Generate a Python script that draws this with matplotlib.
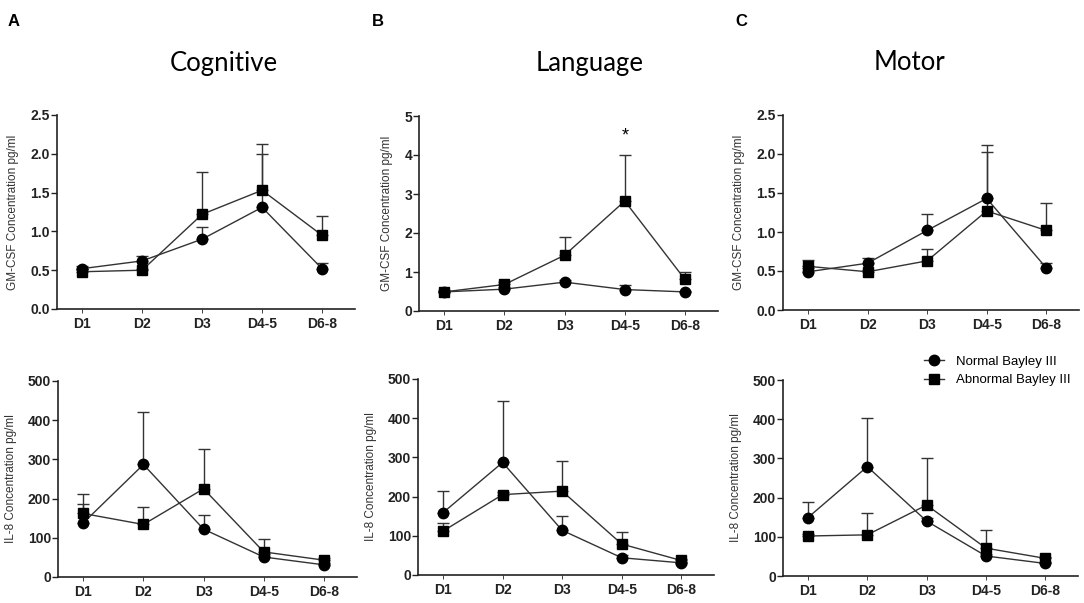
import matplotlib
matplotlib.use("Agg")
import matplotlib.pyplot as plt
import numpy as np

days = ["D1", "D2", "D3", "D4-5", "D6-8"]
titles = ["Cognitive", "Language", "Motor"]
letters = ["A", "B", "C"]
series_names = ["Normal Bayley III", "Abnormal Bayley III"]

# GM-CSF (top row): means and upward SEM
gm_normal = [[0.52, 0.62, 0.90, 1.31, 0.52],
             [0.49, 0.56, 0.74, 0.55, 0.49],
             [0.49, 0.60, 1.02, 1.43, 0.54]]
gm_normal_sem = [[0.04, 0.06, 0.16, 0.69, 0.07],
                 [0.03, 0.05, 0.06, 0.12, 0.03],
                 [0.05, 0.07, 0.21, 0.59, 0.06]]
gm_abnormal = [[0.48, 0.50, 1.22, 1.53, 0.95],
               [0.49, 0.68, 1.43, 2.82, 0.81],
               [0.56, 0.49, 0.63, 1.27, 1.02]]
gm_abnormal_sem = [[0.03, 0.02, 0.54, 0.59, 0.25],
                   [0.04, 0.06, 0.48, 1.19, 0.19],
                   [0.08, 0.02, 0.15, 0.85, 0.35]]

# IL-8 (bottom row)
il_normal = [[138, 287, 122, 51, 31],
             [159, 287, 114, 44, 31],
             [149, 279, 140, 51, 32]]
il_normal_sem = [[47, 134, 35, 8, 4],
                 [56, 156, 36, 6, 3],
                 [41, 123, 8, 6, 4]]
il_abnormal = [[162, 134, 225, 64, 43],
               [112, 205, 214, 79, 37],
               [102, 105, 181, 71, 45]]
il_abnormal_sem = [[49, 44, 102, 34, 5],
                   [21, 8, 78, 31, 4],
                   [6, 55, 119, 46, 4]]

gm_ylims = [2.5, 5, 2.5]
gm_yticks = [[0.0, 0.5, 1.0, 1.5, 2.0, 2.5], [0, 1, 2, 3, 4, 5], [0.0, 0.5, 1.0, 1.5, 2.0, 2.5]]
gm_fmt = ["{:.1f}", "{:.0f}", "{:.1f}"]
il_yticks = [0, 100, 200, 300, 400, 500]

W, H = 1084, 603
fig = plt.figure(figsize=(W / 100, H / 100), dpi=100)

top_boxes = [(57, 355, 115, 309), (419, 718, 116, 311), (783, 1079, 115, 310)]
bot_boxes = [(58, 357, 381, 577), (418, 714, 379, 575), (783, 1078, 380, 576)]

def mkax(box):
    l, r, t, b = box
    return fig.add_axes([l / W, 1 - b / H, (r - l) / W, (b - t) / H])

tick_font = dict(family="Liberation Sans", size=10, weight="bold")
lab_font = dict(family="Liberation Sans", size=8.5, color="#333333")
lc = "#333333"

def draw(ax, m1, s1, m2, s2, ylim, yticks, fmt, ylabel):
    x = np.arange(len(days))
    for m, s, mk in ((m1, s1, "o"), (m2, s2, "s")):
        m = np.array(m, float)
        s = np.array(s, float)
        ax.errorbar(x, m, yerr=[np.zeros_like(s), s], fmt="none", ecolor=lc,
                    elinewidth=1.0, capsize=4, capthick=1.0, zorder=2)
        ax.plot(x, m, color=lc, lw=1.0, marker=mk, markersize=7.5,
                markerfacecolor="black", markeredgecolor="black", zorder=3, clip_on=False)
    ax.set_xlim(-0.42, 4.55)
    ax.set_ylim(0, ylim)
    ax.set_xticks(x)
    ax.set_xticklabels(days, fontdict=tick_font)
    ax.set_yticks(yticks)
    ax.set_yticklabels([fmt.format(v) for v in yticks], fontdict=tick_font)
    for sp in ("top", "right"):
        ax.spines[sp].set_visible(False)
    for sp in ("left", "bottom"):
        ax.spines[sp].set_linewidth(1.2)
        ax.spines[sp].set_color("#222222")
    ax.tick_params(axis="y", length=4, width=1.0, pad=1, colors="#222222")
    ax.tick_params(axis="x", length=3, width=0.6, pad=3, colors="#222222")
    ax.set_ylabel(ylabel, fontdict=lab_font, labelpad=8)

for i in range(3):
    ax = mkax(top_boxes[i])
    draw(ax, gm_normal[i], gm_normal_sem[i], gm_abnormal[i], gm_abnormal_sem[i],
         gm_ylims[i], gm_yticks[i], gm_fmt[i], "GM-CSF Concentration pg/ml")
    if i == 1:
        ax.text(3, 4.48, "*", ha="center", va="center", fontsize=13, family="Liberation Sans")
    ax2 = mkax(bot_boxes[i])
    draw(ax2, il_normal[i], il_normal_sem[i], il_abnormal[i], il_abnormal_sem[i],
         500, il_yticks, "{:.0f}", "IL-8 Concentration pg/ml")
    if i == 2:
        h1, = ax2.plot([], [], color=lc, lw=1.0, marker="o", markersize=7.5, mfc="black", mec="black")
        h2, = ax2.plot([], [], color=lc, lw=1.0, marker="s", markersize=7.5, mfc="black", mec="black")
        fig.legend([h1, h2], series_names, loc="center left",
                   bbox_to_anchor=(924 / W, 1 - 371 / H), frameon=False,
                   prop=dict(family="Liberation Sans", size=9.5), handlelength=1.5,
                   handletextpad=0.9, labelspacing=0.45, borderaxespad=0, borderpad=0)

title_x = [224, 590, 910]
letter_x = [8, 372, 735]
for i in range(3):
    fig.text(title_x[i] / W, 1 - 63 / H, titles[i], ha="center", va="center",
             fontsize=18.5, family="Lato")
    fig.text(letter_x[i] / W, 1 - 21 / H, letters[i], ha="left", va="center",
             fontsize=12, weight="bold", family="Liberation Sans")

fig.savefig("out.png", dpi=100)
